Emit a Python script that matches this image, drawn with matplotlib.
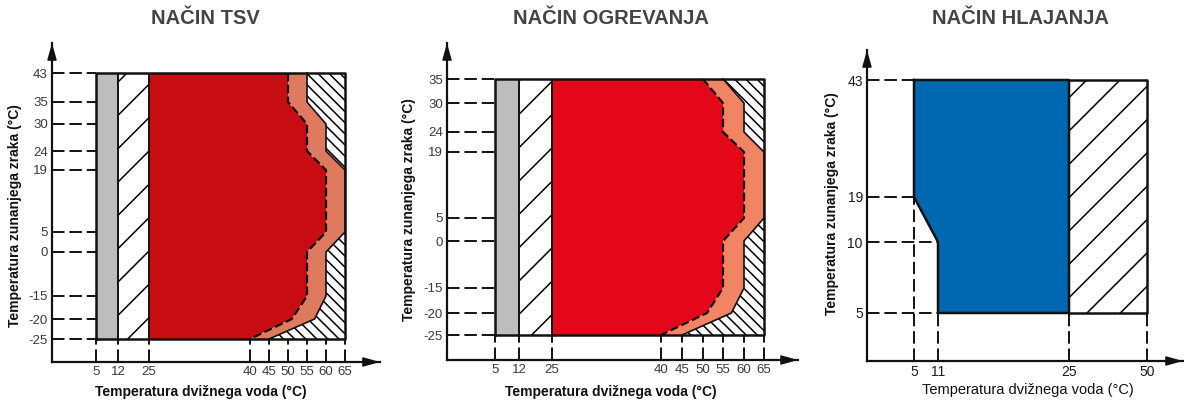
import numpy as np
import matplotlib
matplotlib.use("Agg")
import matplotlib.pyplot as plt

W, H = 1184, 403
plt.rcParams['lines.scale_dashes'] = False
plt.rcParams['hatch.linewidth'] = 1.1
ARIAL = ['Liberation Sans', 'DejaVu Sans']

#%% data
titles = ["NAČIN TSV", "NAČIN OGREVANJA", "NAČIN HLAJANJA"]
xlabel = "Temperatura dvižnega voda (°C)"
ylabel = "Temperatura zunanjega zraka (°C)"

# TSV
tsv_xticks = [5, 12, 25, 40, 45, 50, 55, 60, 65]
tsv_yticks = [-25, -20, -15, 0, 5, 19, 24, 30, 35, 43]
tsv_inner_x = [50, 50, 55, 55, 60, 60, 55, 55, 51, 40]
tsv_inner_y = [43, 35, 30, 24, 19, 5, 0, -15, -20, -25]
tsv_outer_x = [55, 55, 60, 60, 65, 65, 60, 60, 57, 45]
tsv_outer_y = [43, 35, 30, 24, 19, 5, 0, -15, -20, -25]

# ogrevanje
og_xticks = [5, 12, 25, 40, 45, 50, 55, 60, 65]
og_yticks = [-25, -20, -15, 0, 5, 19, 24, 30, 35]
og_inner_x = [50, 55, 55, 60, 60, 55, 55, 51, 40]
og_inner_y = [35, 30, 24, 19, 5, 0, -15, -20, -25]
og_outer_x = [55, 60, 60, 65, 65, 60, 60, 57, 45]
og_outer_y = [35, 30, 24, 19, 5, 0, -15, -20, -25]

# hlajanje
hl_xticks = [5, 11, 25, 50]
hl_yticks = [5, 10, 19, 43]
hl_blue_x = [5, 25, 25, 11, 11, 5]
hl_blue_y = [43, 43, 5, 5, 10, 19]
hl_hline_end = [11, 11, 5, 5]
hl_vline_top = [19, 10, 5, 5]

#%% layout (pixel positions of the ticks)
tsv_xpx = [96, 118, 149, 250, 269, 288, 307, 326, 345]
tsv_ypx = [339, 319, 296, 252, 232, 170, 151, 124, 102, 73]
og_xpx = [495, 519, 552, 661, 682, 703, 723, 744, 764]
og_ypx = [335, 313, 288, 241, 218, 152, 132, 103, 79]
hl_xpx = [914, 938, 1069, 1147]
hl_ypx = [313, 242, 197, 80]

GRAY = '#bdbdbd'
INK = '#111111'
DASH = (0, (9, 3.5))


def piecewise(a, b):
    a = np.asarray(a, float)
    b = np.asarray(b, float)
    s0 = (b[1] - b[0]) / (a[1] - a[0])
    s1 = (b[-1] - b[-2]) / (a[-1] - a[-2])

    def f(v):
        v = np.asarray(v, float)
        out = np.interp(v, a, b)
        out = np.where(v < a[0], b[0] + (v - a[0]) * s0, out)
        out = np.where(v > a[-1], b[-1] + (v - a[-1]) * s1, out)
        return out
    return f


def make_axes(fig, xticks, xpx, yticks, ypx, left, right, top, bottom, tcolor, tsize):
    ax = fig.add_axes([left / W, 1 - bottom / H, (right - left) / W, (bottom - top) / H])
    ypn = [-p for p in ypx]
    fx, ix = piecewise(xticks, xpx), piecewise(xpx, xticks)
    fy, iy = piecewise(yticks, ypn), piecewise(ypn, yticks)
    ax.set_xscale('function', functions=(fx, ix))
    ax.set_yscale('function', functions=(fy, iy))
    ax.set_xlim(float(ix(left)), float(ix(right)))
    ax.set_ylim(float(iy(-bottom)), float(iy(-top)))
    ax.patch.set_visible(False)
    for s in ['top', 'right']:
        ax.spines[s].set_visible(False)
    for s in ['left', 'bottom']:
        ax.spines[s].set_linewidth(1.6)
        ax.spines[s].set_color(INK)
    ax.set_xticks(xticks)
    ax.set_xticklabels([str(v) for v in xticks])
    ax.set_yticks(yticks)
    ax.set_yticklabels([str(v) for v in yticks])
    ax.tick_params(length=0, pad=3, labelsize=tsize, labelcolor=tcolor)
    for lab in ax.get_xticklabels() + ax.get_yticklabels():
        lab.set_family(ARIAL)
    arrow = dict(arrowstyle='-|>,head_length=1.0,head_width=0.28', color=INK,
                 lw=1.2, shrinkA=0, shrinkB=0)
    ax.annotate('', xy=(1, 0), xycoords='axes fraction', xytext=(0.9, 0), arrowprops=arrow)
    ax.annotate('', xy=(0, 1), xycoords='axes fraction', xytext=(0, 0.9), arrowprops=arrow)
    return ax


def heat_panel(ax, xticks, yticks, inner_x, inner_y, outer_x, outer_y, red, salmon):
    x0, x1 = xticks[0], xticks[-1]
    y0, y1 = yticks[0], yticks[-1]
    ax.fill([x0, 12, 12, x0], [y0, y0, y1, y1], color=GRAY, lw=0, zorder=1)
    ax.fill([12, 25, 25, 12], [y0, y0, y1, y1], facecolor='white', edgecolor='k',
            hatch='/', lw=0, zorder=1)
    ax.fill([25, 25] + inner_x, [y0, y1] + inner_y, color=red, lw=0, zorder=1)
    ax.fill(inner_x + outer_x[::-1], inner_y + outer_y[::-1], color=salmon, lw=0, zorder=1)
    ax.fill(outer_x + [x1, x1], outer_y + [y0, y1], facecolor='white', edgecolor='k',
            hatch='\\\\\\', lw=0, zorder=1)
    ax.plot(inner_x, inner_y, color=INK, lw=1.6, ls=(0, (6, 2.5)), zorder=3)
    ax.plot(outer_x, outer_y, color=INK, lw=1.2, zorder=3)
    ax.vlines([12, 25], y0, y1, color=INK, lw=1.4, zorder=3)
    ax.plot([x0, x1, x1, x0, x0], [y0, y0, y1, y1, y0], color=INK, lw=1.8, zorder=4)
    xl, yl = ax.get_xlim()[0], ax.get_ylim()[0]
    ax.hlines(yticks, xl, x0, color=INK, lw=1.4, ls=DASH, zorder=2)
    ax.vlines(xticks, yl, y0, color=INK, lw=1.4, ls=DASH, zorder=2)


fig = plt.figure(figsize=(W / 100, H / 100), dpi=100)

ax1 = make_axes(fig, tsv_xticks, tsv_xpx, tsv_yticks, tsv_ypx, 52, 380, 43, 362,
                '#3a3a3a', 9.5)
heat_panel(ax1, tsv_xticks, tsv_yticks, tsv_inner_x, tsv_inner_y,
           tsv_outer_x, tsv_outer_y, '#c80d12', '#e07a5f')

ax2 = make_axes(fig, og_xticks, og_xpx, og_yticks, og_ypx, 447, 798, 43, 360,
                '#3a3a3a', 9.5)
heat_panel(ax2, og_xticks, og_yticks, og_inner_x, og_inner_y,
           og_outer_x, og_outer_y, '#e20817', '#f08463')

ax3 = make_axes(fig, hl_xticks, hl_xpx, hl_yticks, hl_ypx, 867, 1183, 50, 361,
                '#1a1a1a', 10)
ax3.fill(hl_blue_x, hl_blue_y, color='#0067b1', lw=0, zorder=1)
ax3.fill([25, 50, 50, 25], [5, 5, 43, 43], facecolor='white', edgecolor='k',
         hatch='/', lw=0, zorder=1)
ax3.plot(hl_blue_x + hl_blue_x[:1], hl_blue_y + hl_blue_y[:1], color=INK, lw=1.8, zorder=4)
ax3.plot([25, 50, 50, 25], [43, 43, 5, 5], color=INK, lw=1.8, zorder=4)
xl, yl = ax3.get_xlim()[0], ax3.get_ylim()[0]
ax3.hlines(hl_yticks, xl, hl_hline_end, color=INK, lw=1.4, ls=DASH, zorder=2)
ax3.vlines(hl_xticks, yl, hl_vline_top, color=INK, lw=1.4, ls=DASH, zorder=2)

# titles and axis labels
for x, t in zip([205, 611, 1020], titles):
    fig.text(x / W, 1 - 18 / H, t, ha='center', va='center', fontsize=14.5,
             fontweight='bold', color='#444444', family=ARIAL)
for x in [201, 611]:
    fig.text(x / W, 1 - 392 / H, xlabel, ha='center', va='center', fontsize=10,
             fontweight='bold', color=INK, family=ARIAL)
fig.text(1028 / W, 1 - 390 / H, xlabel, ha='center', va='center', fontsize=10.5,
         color=INK, family=ARIAL)
for x, y in [(15, 216), (409, 210), (832, 204)]:
    fig.text(x / W, 1 - y / H, ylabel, ha='center', va='center', rotation=90,
             fontsize=10, fontweight='bold', color=INK, family=ARIAL)

fig.savefig("out.png", dpi=100)
